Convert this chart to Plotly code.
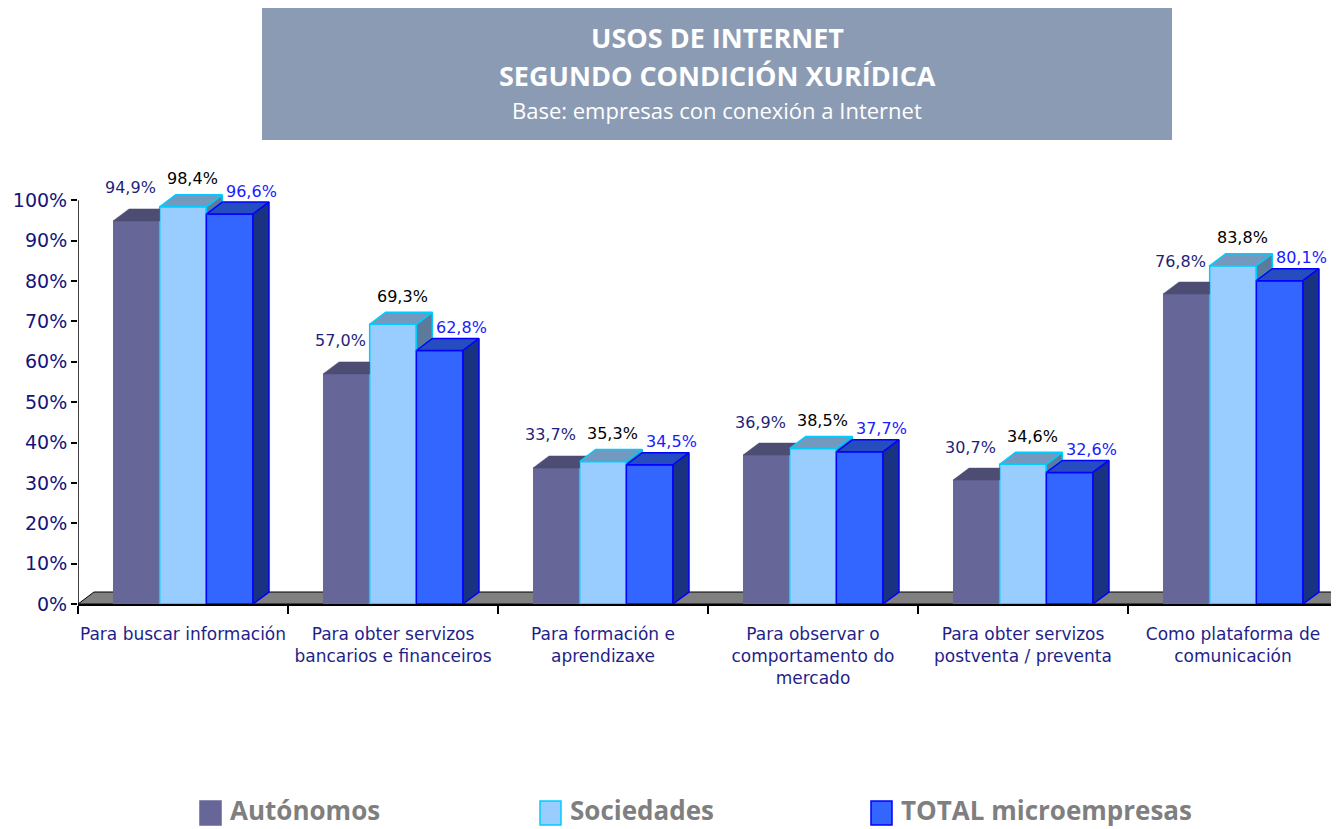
import plotly.graph_objects as go

# data
categories = [
    "Para buscar información",
    "Para obter servizos<br>bancarios e financeiros",
    "Para formación e<br>aprendizaxe",
    "Para observar o<br>comportamento do<br>mercado",
    "Para obter servizos<br>postventa / preventa",
    "Como plataforma de<br>comunicación",
]
autonomos = [94.9, 57.0, 33.7, 36.9, 30.7, 76.8]
sociedades = [98.4, 69.3, 35.3, 38.5, 34.6, 83.8]
total_micro = [96.6, 62.8, 34.5, 37.7, 32.6, 80.1]
series_names = ["Autónomos", "Sociedades", "TOTAL microempresas"]
y_tick_values = [0, 10, 20, 30, 40, 50, 60, 70, 80, 90, 100]
y_tick_labels = [f"{v}%" for v in y_tick_values]

series_values = [autonomos, sociedades, total_micro]

# page body has an 8px margin, so the figure is a bit smaller than the window
OFF = 8
W, H = 1339 - OFF, 829 - OFF
L, R, T, B = 70, 1, 152, 225
PLOT_W = W - L - R
PLOT_H = H - T - B
Y_MAX = 110
N = len(categories)

# fake 3D depth, converted to data units
DX = 16 / PLOT_W * N
DY = 12 / PLOT_H * Y_MAX
SLOPE = DY / DX
BAR_W = (1 - 1 / 3) / 3

styles = [
    dict(front="#666699", top="#4d4d73", side="#333366", edge=None, label="#1f1f7a", dx=-6, dy=33),
    dict(front="#99ccff", top="#7399bf", side="#5c7a99", edge="#00ccff", label="#000000", dx=9, dy=28),
    dict(front="#3366ff", top="#264dbf", side="#1a3380", edge="#0000ff", label="#1a1aff", dx=22, dy=23),
]


def px_x(px):
    # window pixel -> paper x
    return (px - OFF - L) / PLOT_W


def px_y(py):
    # window pixel -> paper y
    return (H - B - (py - OFF)) / PLOT_H


def fmt(v):
    return f"{v:.1f}".replace(".", ",") + "%"


fig = go.Figure()

# front faces
for k, (name, vals, st) in enumerate(zip(series_names, series_values, styles)):
    fig.add_trace(go.Bar(
        x=list(range(N)), y=vals, name=name,
        width=BAR_W, offset=-1.5 * BAR_W + k * BAR_W,
        marker=dict(color=st["front"],
                    line=dict(color=st["edge"] or st["front"], width=1.5 if st["edge"] else 0)),
        hovertemplate=name + ": %{y:.1f}%<extra></extra>",
        showlegend=False,
    ))

# top and side faces, clipped where the next bar hides them
for k, (vals, st) in enumerate(zip(series_values, styles)):
    top_x, top_y, side_x, side_y = [], [], [], []
    for i, v in enumerate(vals):
        xl = i - 1.5 * BAR_W + k * BAR_W
        xr = xl + BAR_W
        nxt = series_values[k + 1][i] if k + 1 < len(series_values) else None
        c = v if nxt is None else min(max(nxt, v), v + DY)
        top_x += [xl, xr, xr, xr + (v + DY - c) / SLOPE, xl + DX, xl, None]
        top_y += [v, v, c, v + DY, v + DY, v, None]
        base = 0 if nxt is None else nxt
        if base < v:
            side_x += [xr, xr + DX, xr + DX, xr, xr, None]
            side_y += [base, base + DY, v + DY, v, base, None]
    for xs, ys, col in [(top_x, top_y, st["top"]), (side_x, side_y, st["side"])]:
        if not xs:
            continue
        fig.add_trace(go.Scatter(
            x=xs, y=ys, mode="lines", fill="toself", fillcolor=col,
            line=dict(color=st["edge"] or col, width=1.5 if st["edge"] else 0.5),
            hoverinfo="skip", showlegend=False,
        ))

# value labels
for k, (vals, st) in enumerate(zip(series_values, styles)):
    for i, v in enumerate(vals):
        fig.add_annotation(
            x=i - BAR_W + k * BAR_W, y=v, xref="x", yref="y",
            text=fmt(v), showarrow=False, xshift=st["dx"], yshift=st["dy"],
            xanchor="center", yanchor="middle",
            font=dict(family="DejaVu Sans", size=16, color=st["label"]),
        )

# floor and y axis line
fig.add_shape(
    type="path", xref="x", yref="y", layer="below",
    path=f"M -0.5,0 L {N - 0.5 + DX},0 L {N - 0.5 + DX},{DY} L {-0.5 + DX},{DY} Z",
    fillcolor="#808080", line=dict(color="#000000", width=1),
)
fig.add_shape(type="line", xref="x", yref="y", x0=-0.5, x1=-0.5, y0=0, y1=100,
              line=dict(color="#000000", width=1.5))

# title box
fig.add_shape(type="rect", xref="paper", yref="paper",
              x0=px_x(262), x1=px_x(1172), y0=px_y(140), y1=px_y(8),
              fillcolor="#8b9bb4", line=dict(width=0))
for txt, py, size, bold in [("USOS DE INTERNET", 37, 27, True),
                            ("SEGUNDO CONDICIÓN XURÍDICA", 75, 27, True),
                            ("Base: empresas con conexión a Internet", 110, 22, False)]:
    fig.add_annotation(x=px_x(717), y=px_y(py), xref="paper", yref="paper",
                       xanchor="center", yanchor="middle",
                       text=f"<b>{txt}</b>" if bold else txt, showarrow=False,
                       font=dict(family="Open Sans", size=size, color="#ffffff"))

# legend drawn by hand to match the big squares
legend_x = [200, 540, 871]
for name, st, lx in zip(series_names, styles, legend_x):
    fig.add_shape(type="rect", xref="paper", yref="paper",
                  x0=px_x(lx), x1=px_x(lx + 21), y0=px_y(825), y1=px_y(801),
                  fillcolor=st["front"], line=dict(color=st["edge"] or st["front"], width=1.5))
    fig.add_annotation(x=px_x(lx + 28), y=px_y(810), xref="paper", yref="paper",
                       xanchor="left", yanchor="middle", text=f"<b>{name}</b>", showarrow=False,
                       font=dict(family="Open Sans", size=26, color="#7f7f7f"))

fig.update_layout(
    width=W, height=H, margin=dict(l=L, r=R, t=T, b=B),
    plot_bgcolor="#ffffff", paper_bgcolor="#ffffff",
    barmode="overlay", showlegend=False,
)
fig.update_xaxes(
    range=[-0.5, N - 0.5], tickvals=list(range(N)), ticktext=categories,
    ticks="", showgrid=False, zeroline=False, ticklabelstandoff=14,
    showline=True, linecolor="#000000", linewidth=1.5,
    tickfont=dict(family="DejaVu Sans", size=17, color="#1f1f8a"),
    minor=dict(tickmode="array", tickvals=[j - 0.5 for j in range(N + 1)],
               ticks="outside", ticklen=8, tickcolor="#000000", tickwidth=1.5),
)
fig.update_yaxes(
    range=[0, Y_MAX], tickvals=y_tick_values, ticktext=y_tick_labels,
    ticks="outside", ticklen=6, tickcolor="#000000", tickwidth=1.5,
    showgrid=False, zeroline=False, showline=False,
    tickfont=dict(family="DejaVu Sans", size=19, color="#14147a"),
)

fig.write_html("out.html")
